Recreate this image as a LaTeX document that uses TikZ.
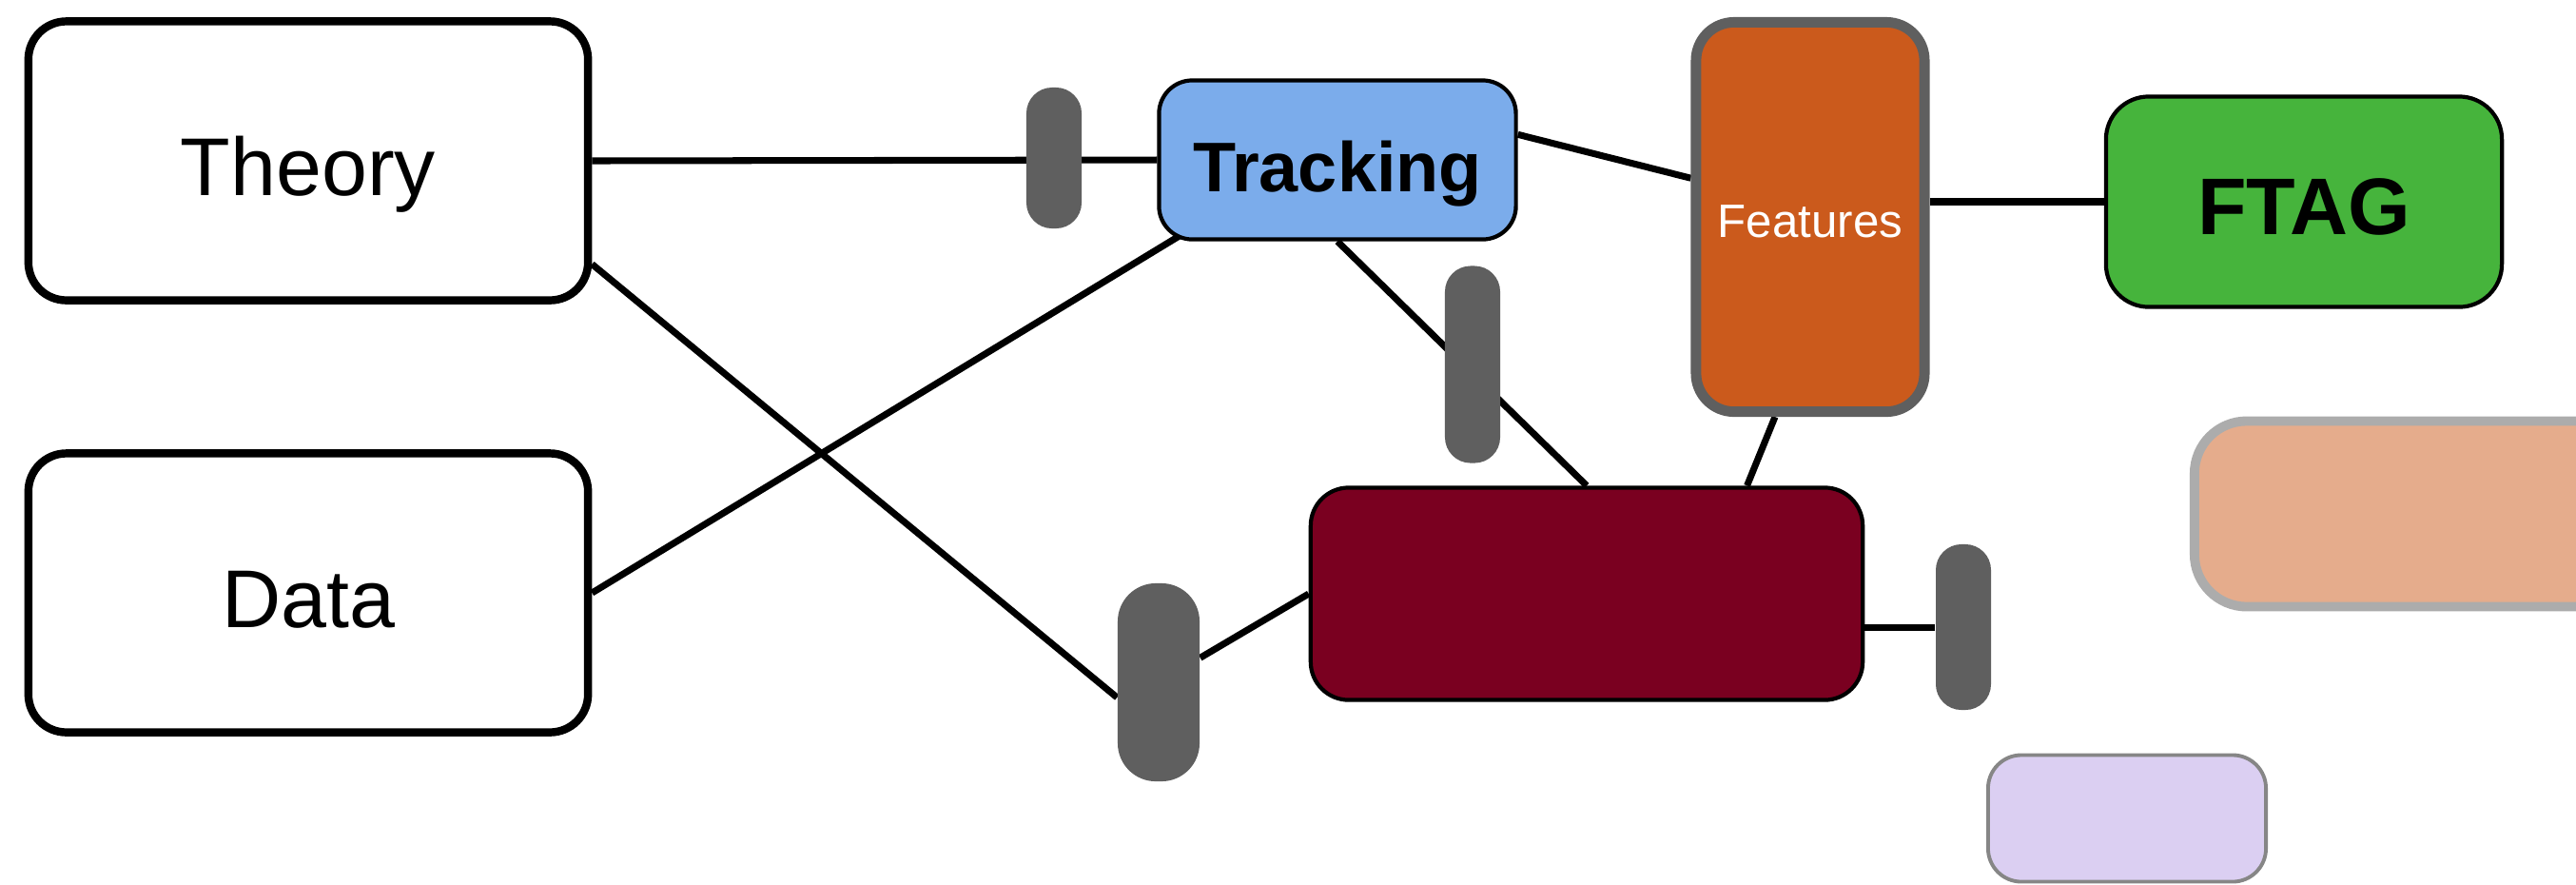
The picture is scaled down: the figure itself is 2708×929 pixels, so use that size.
\documentclass[tikz,border=0pt]{standalone}
\usepackage{fontspec}
\setmainfont{Liberation Sans}
\usetikzlibrary{backgrounds}
\definecolor{trackblue}{HTML}{7BACEB}
\definecolor{featorange}{HTML}{CB5A1C}
\definecolor{pluggray}{HTML}{5F5F5F}
\definecolor{coremaroon}{HTML}{7A0020}
\definecolor{ftaggreen}{HTML}{46B43C}
\definecolor{salmonfill}{HTML}{E5AC8C}
\definecolor{salmonedge}{HTML}{ACACAC}
\definecolor{lilacfill}{HTML}{DBCFF2}
\definecolor{lilacedge}{HTML}{868686}
\tikzset{
    plain/.style={rectangle, rounded corners=0.4cm, draw=black, line width=2.4pt, fill=white, inner sep=0,
        minimum width=5.88cm, minimum height=2.93cm, text height=0.72cm, text depth=0pt,
        font=\fontsize{24.5}{29}\selectfont},
    tracknode/.style={rectangle, rounded corners=0.35cm, draw=black, line width=1.2pt, fill=trackblue, inner sep=0,
        minimum width=3.75cm, minimum height=1.67cm, text height=0.66cm, text depth=0pt,
        font=\fontsize{21}{25}\selectfont\bfseries},
    featnode/.style={rectangle, rounded corners=0.4cm, draw=pluggray, line width=3.1pt, fill=featorange, inner sep=0,
        minimum width=2.40cm, minimum height=4.09cm, text height=0.42cm, text depth=0pt, text=white,
        font=\fontsize{14}{17}\selectfont},
    ftagnode/.style={rectangle, rounded corners=0.45cm, draw=black, line width=1.2pt, fill=ftaggreen, inner sep=0,
        minimum width=4.16cm, minimum height=2.21cm, text height=0.68cm, text depth=0pt,
        font=\fontsize{24}{29}\selectfont\bfseries},
    corenode/.style={rectangle, rounded corners=0.4cm, draw=black, line width=1.2pt, fill=coremaroon, inner sep=0,
        minimum width=5.80cm, minimum height=2.23cm},
    salmonnode/.style={rectangle, rounded corners=0.55cm, draw=salmonedge, line width=2.8pt, fill=salmonfill, inner sep=0,
        minimum width=4.6cm, minimum height=1.95cm},
    lilacnode/.style={rectangle, rounded corners=0.35cm, draw=lilacedge, line width=1.1pt, fill=lilacfill, inner sep=0,
        minimum width=2.92cm, minimum height=1.33cm},
    plug/.style={rectangle, rounded corners=0.27cm, fill=pluggray, inner sep=0, minimum width=0.58cm},
    link/.style={draw=black, line width=2pt}
}

\begin{document}
\begin{tikzpicture}[x=0.01cm, y=-0.01cm]
    \useasboundingbox (0,0) rectangle (2708,929);
    % boxes
    \node[plain] (theory) at (324,169) {Theory};
    \node[plain] (data) at (324,623) {Data};
    \node[tracknode] (tracking) at (1406,168) {Tracking};
    \node[featnode] (features) at (1903,228) {Features};
    \node[ftagnode] (ftag) at (2422,212) {FTAG};
    \node[corenode] (core) at (1668,624) {};
    \node[salmonnode] (blank1) at (2537,540) {};
    \node[lilacnode] (blank2) at (2236,860) {};
    % plugs on the links
    \node[plug, minimum height=1.48cm] (plug1) at (1108,166) {};
    \node[plug, minimum height=2.07cm] (plug2) at (1548,383) {};
    \node[plug, minimum width=0.86cm, minimum height=2.08cm, rounded corners=0.4cm] (plug3) at (1218,717) {};
    \node[plug, minimum height=1.74cm] (plug4) at (2064,659) {};
    % links
    \begin{pgfonlayer}{background}
        \draw[link] (theory.east) -- (tracking.west);
        \draw[link] (theory.-20) -- (plug3.200);
        \draw[link, shorten >=-0.3cm] (data.east) -- (tracking.206);
        \draw[link] (tracking.south) -- (core.north);
        \draw[link] (tracking.8) -- (features.162);
        \draw[link] (features.-100) -- (core.34);
        \draw[link] (features.east |- ftag) -- (ftag);
        \draw[link] (plug3) -- (core.west);
        \draw[link] (core.east |- plug4) -- (plug4);
    \end{pgfonlayer}
\end{tikzpicture}
\end{document}
